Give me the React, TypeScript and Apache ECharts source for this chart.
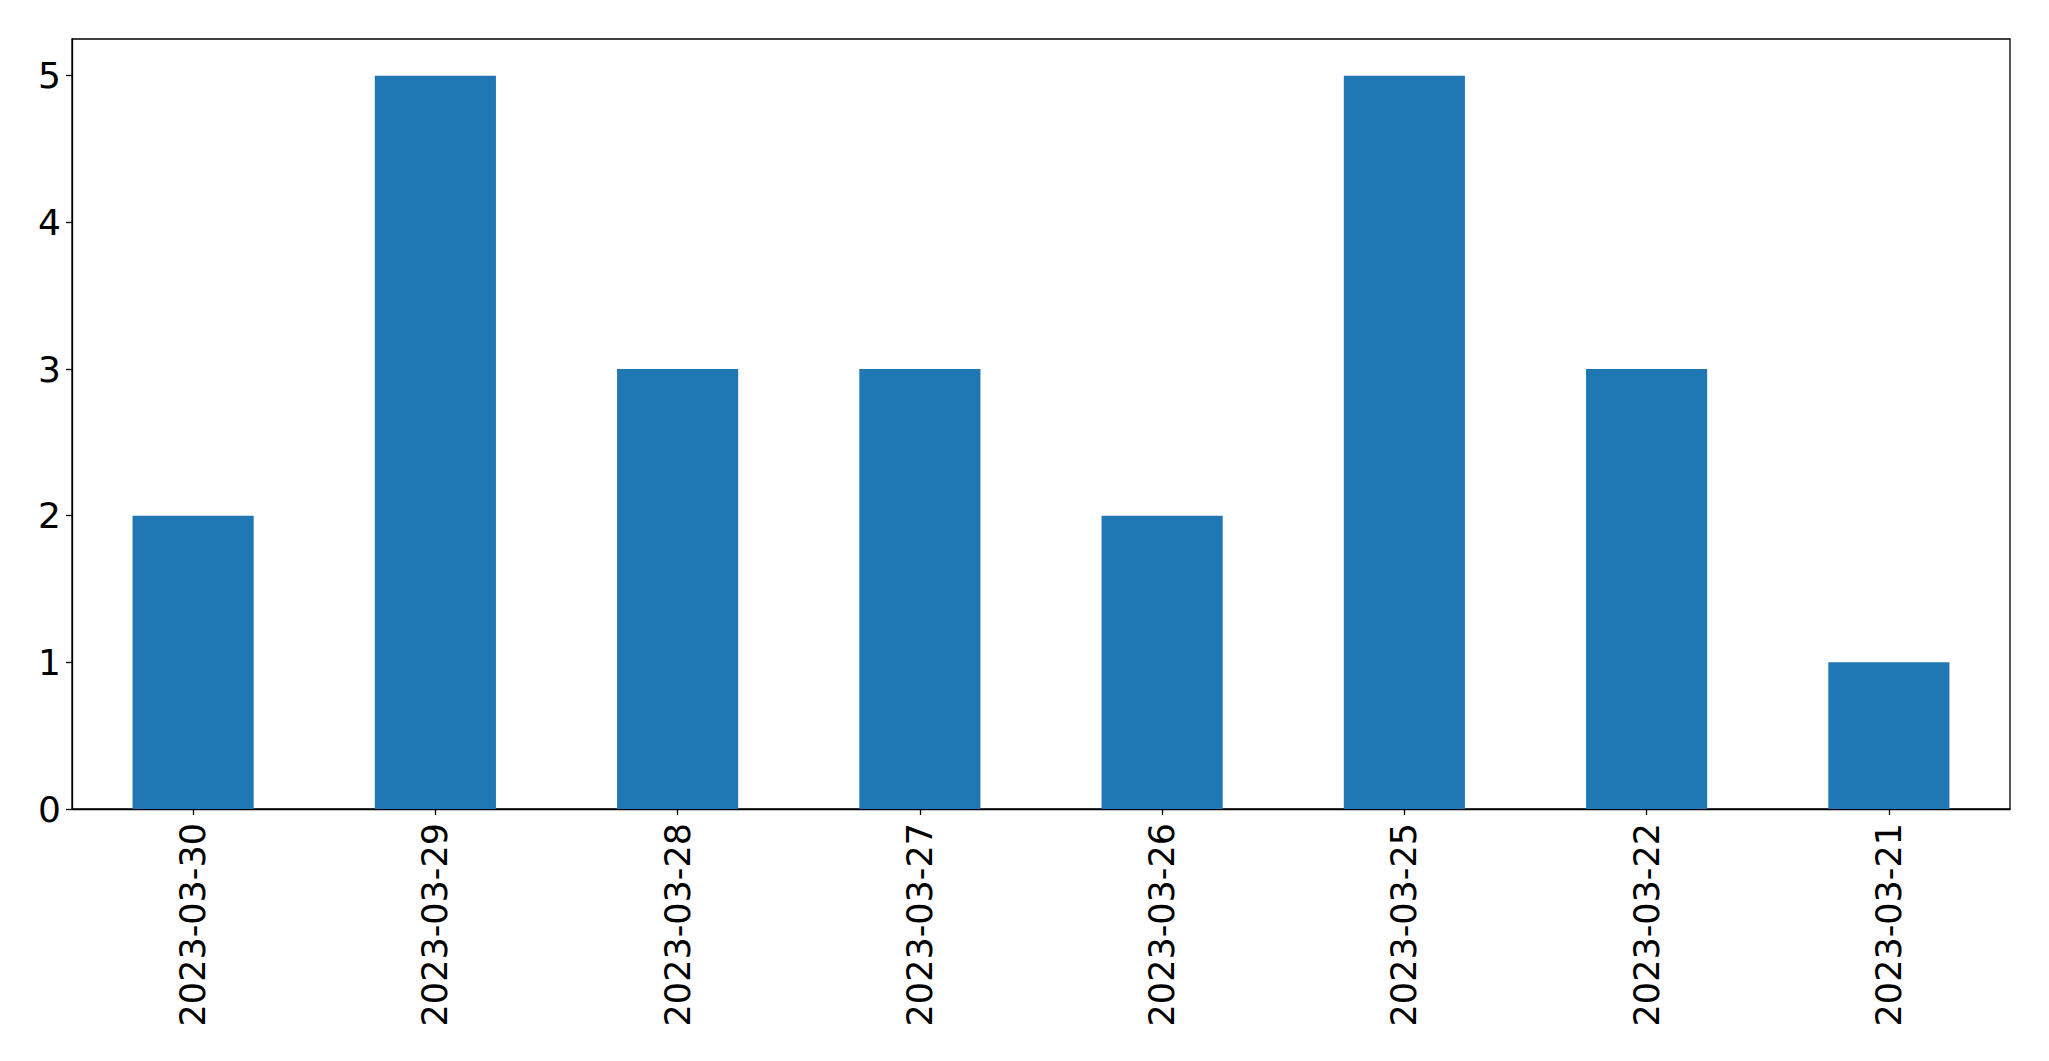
import React, { useEffect, useRef } from "react";
import * as echarts from "echarts";

const categories = [
  "2023-03-30",
  "2023-03-29",
  "2023-03-28",
  "2023-03-27",
  "2023-03-26",
  "2023-03-25",
  "2023-03-22",
  "2023-03-21",
];
const counts = [2, 5, 3, 3, 2, 5, 3, 1];
const yTicks = [0, 1, 2, 3, 4, 5];

export default function App() {
  const ref = useRef<HTMLDivElement>(null);
  useEffect(() => {
    if (!ref.current) return;
    document.body.style.margin = "0";
    const chart = echarts.init(ref.current, null, { renderer: "svg" });
    const font = "DejaVu Sans";
    chart.setOption({
      animation: false,
      backgroundColor: "#ffffff",
      grid: {
        left: 72,
        right: 39,
        top: 39,
        bottom: 252,
        show: true,
        borderColor: "#000000",
        borderWidth: 1.3,
        backgroundColor: "transparent",
        containLabel: false,
      },
      xAxis: {
        type: "category",
        data: categories,
        boundaryGap: true,
        axisLine: { show: true, lineStyle: { color: "#000000", width: 1.3 } },
        axisTick: {
          show: true,
          alignWithLabel: true,
          length: 6,
          lineStyle: { color: "#000000", width: 1.3 },
        },
        axisLabel: {
          rotate: 90,
          margin: 14,
          color: "#000000",
          fontSize: 35,
          fontFamily: font,
          interval: 0,
        },
        splitLine: { show: false },
      },
      yAxis: {
        type: "value",
        min: 0,
        max: 5.25,
        interval: 1,
        axisLine: { show: true, lineStyle: { color: "#000000", width: 1.3 } },
        axisTick: {
          show: true,
          length: 6,
          customValues: yTicks,
          lineStyle: { color: "#000000", width: 1.3 },
        },
        axisLabel: {
          margin: 11,
          color: "#000000",
          fontSize: 36,
          fontFamily: font,
          customValues: yTicks,
        },
        splitLine: { show: false },
      },
      series: [
        {
          type: "bar",
          data: counts,
          barWidth: "50%",
          itemStyle: { color: "#1f77b4" },
        },
      ],
    });
    return () => chart.dispose();
  }, []);
  return <div ref={ref} style={{ width: 2049, height: 1061 }} />;
}
